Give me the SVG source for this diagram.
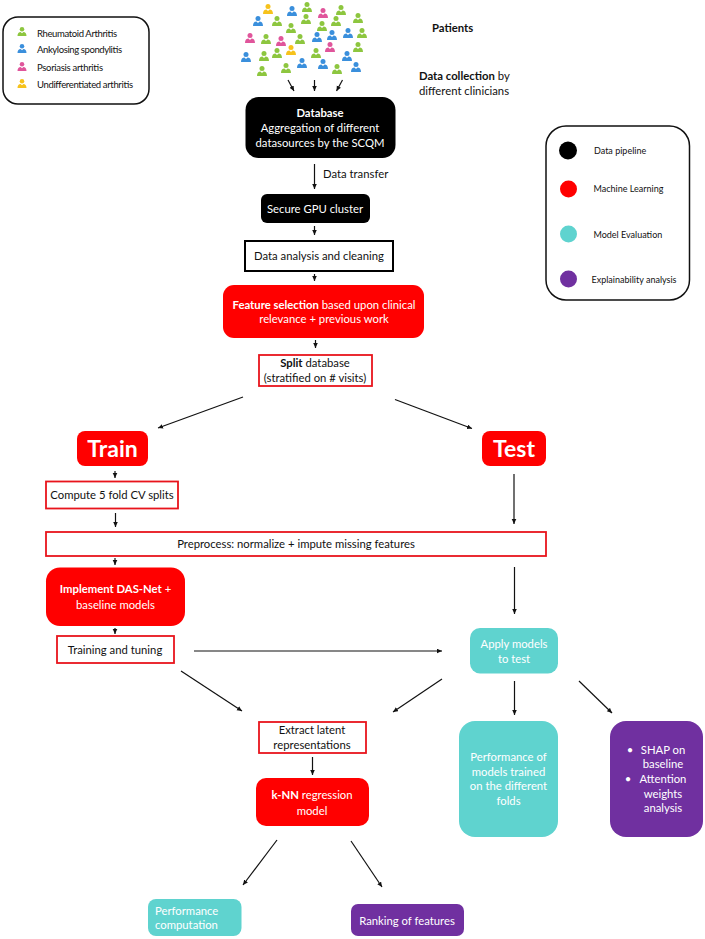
<svg xmlns="http://www.w3.org/2000/svg" width="705" height="939" viewBox="0 0 705 939">
<style>
text{font-family:"Lato","Carlito","Open Sans",sans-serif;font-size:11.3px;fill:#111;text-anchor:middle}
.w{fill:#fff}.b{font-weight:700}.l{text-anchor:start}.s{font-size:9px}
.big{font-size:23px;font-weight:700;fill:#fff}
.leg{font-size:9.5px;text-anchor:start}
.frame{fill:#fff;stroke:#111;stroke-width:1.5}
.blk{fill:#000}.red{fill:#f00}.teal{fill:#5fd3cf}.pur{fill:#7030a0}
.ro{fill:#fff;stroke:#e8141c;stroke-width:1.8}.bo{fill:#fff;stroke:#000;stroke-width:2}
.g{fill:#8dc63f}.u{fill:#3a8fdc}.p{fill:#e0559b}.y{fill:#f6c21c}
#connectors line{stroke:#111;stroke-width:1.2;marker-end:url(#ah)}
</style>
<defs>
<marker id="ah" markerUnits="userSpaceOnUse" markerWidth="6" markerHeight="6" refX="5" refY="2.5" orient="auto"><path d="M0,0.2L5,2.5L0,4.8Z" fill="#111"/></marker>
<symbol id="pp" viewBox="0 0 10 10" overflow="visible"><circle cx="5" cy="2.6" r="2.5"/><path d="M0,10C0,7 1.5,5.6 3.4,5.6L5,7L6.6,5.6C8.5,5.6 10,7 10,10Z"/></symbol>
</defs>

<g id="legend-disease">
<rect class="frame" x="3" y="17" width="146" height="87" rx="15"/>
<use href="#pp" class="g" x="17" y="27" width="10" height="9"/>
<use href="#pp" class="u" x="17" y="44" width="10" height="9"/>
<use href="#pp" class="p" x="17" y="62" width="10" height="9"/>
<use href="#pp" class="y" x="17" y="79" width="10" height="9"/>
<text class="leg" x="37" y="37" textLength="80">Rheumatoid Arthritis</text>
<text class="leg" x="37" y="53" textLength="85">Ankylosing spondylitis</text>
<text class="leg" x="37" y="71" textLength="66">Psoriasis arthritis</text>
<text class="leg" x="37" y="88" textLength="96">Undifferentiated arthritis</text>
</g>

<g id="patients-crowd">
<use href="#pp" class="y" x="263" y="4" width="10" height="10"/>
<use href="#pp" class="u" x="287" y="6" width="10" height="10"/>
<use href="#pp" class="g" x="302" y="2" width="10" height="10"/>
<use href="#pp" class="p" x="318" y="8" width="10" height="10"/>
<use href="#pp" class="g" x="336" y="5" width="10" height="10"/>
<use href="#pp" class="u" x="253" y="16" width="10" height="10"/>
<use href="#pp" class="g" x="272" y="16" width="10" height="10"/>
<use href="#pp" class="g" x="301" y="14" width="10" height="10"/>
<use href="#pp" class="g" x="331" y="16" width="10" height="10"/>
<use href="#pp" class="g" x="353" y="13" width="10" height="10"/>
<use href="#pp" class="g" x="286" y="23" width="10" height="10"/>
<use href="#pp" class="g" x="317" y="21" width="10" height="10"/>
<use href="#pp" class="u" x="327" y="30" width="10" height="10"/>
<use href="#pp" class="u" x="343" y="28" width="10" height="10"/>
<use href="#pp" class="g" x="357" y="28" width="10" height="10"/>
<use href="#pp" class="p" x="245" y="33" width="10" height="10"/>
<use href="#pp" class="g" x="261" y="34" width="10" height="10"/>
<use href="#pp" class="p" x="276" y="36" width="10" height="10"/>
<use href="#pp" class="g" x="295" y="34" width="10" height="10"/>
<use href="#pp" class="u" x="312" y="32" width="10" height="10"/>
<use href="#pp" class="y" x="286" y="45" width="10" height="10"/>
<use href="#pp" class="p" x="325" y="42" width="10" height="10"/>
<use href="#pp" class="g" x="353" y="42" width="10" height="10"/>
<use href="#pp" class="g" x="272" y="48" width="10" height="10"/>
<use href="#pp" class="g" x="311" y="48" width="10" height="10"/>
<use href="#pp" class="u" x="241" y="52" width="10" height="10"/>
<use href="#pp" class="g" x="259" y="51" width="10" height="10"/>
<use href="#pp" class="u" x="342" y="51" width="10" height="10"/>
<use href="#pp" class="u" x="297" y="58" width="10" height="10"/>
<use href="#pp" class="u" x="318" y="59" width="10" height="10"/>
<use href="#pp" class="g" x="332" y="64" width="10" height="10"/>
<use href="#pp" class="u" x="351" y="62" width="10" height="10"/>
<use href="#pp" class="g" x="281" y="63" width="10" height="10"/>
<use href="#pp" class="g" x="257" y="66" width="10" height="10"/>
</g>

<g id="connectors">
<line x1="288" y1="80" x2="294" y2="91"/>
<line x1="314.500" y1="80" x2="314.500" y2="91"/>
<line x1="342.500" y1="80" x2="336.500" y2="91"/>
<line x1="314.500" y1="164" x2="314.500" y2="189"/>
<line x1="314.500" y1="226" x2="314.500" y2="235"/>
<line x1="314.500" y1="274" x2="314.500" y2="281"/>
<line x1="315.500" y1="340" x2="315.500" y2="348"/>
<line x1="243" y1="397" x2="158" y2="428"/>
<line x1="395" y1="399.500" x2="472" y2="428.500"/>
<line x1="115" y1="471" x2="115" y2="478"/>
<line x1="115.500" y1="513" x2="115.500" y2="527"/>
<line x1="115" y1="558" x2="115" y2="565"/>
<line x1="115" y1="628" x2="115" y2="634"/>
<line x1="194" y1="651" x2="442" y2="651"/>
<line x1="181" y1="671" x2="242" y2="711"/>
<line x1="442" y1="679" x2="393" y2="712"/>
<line x1="514" y1="474" x2="514" y2="524"/>
<line x1="514.500" y1="567" x2="514.500" y2="614"/>
<line x1="514.500" y1="681" x2="514.500" y2="715"/>
<line x1="579" y1="681" x2="612" y2="713"/>
<line x1="312.500" y1="757" x2="312.500" y2="775"/>
<line x1="277" y1="840" x2="243" y2="885"/>
<line x1="351" y1="841" x2="382" y2="887"/>
</g>

<g id="patients-label"><text class="b l" x="432" y="32">Patients</text></g>
<g id="collection-label"><text class="l" x="419" y="80"><tspan class="b">Data collection</tspan> by</text><text class="l" x="419" y="95">different clinicians</text></g>
<g id="transfer-label"><text class="l" x="323" y="178">Data transfer</text></g>

<g id="database"><rect class="blk" x="245.500" y="97" width="150" height="61" rx="13"/>
<text class="w b" x="320" y="117">Database</text><text class="w" x="320" y="132">Aggregation of different</text><text class="w" x="320" y="147">datasources by the SCQM</text></g>
<g id="gpu"><rect class="blk" x="261" y="194" width="109" height="29" rx="6"/><text class="w" x="315" y="213">Secure GPU cluster</text></g>
<g id="cleaning"><rect class="bo" x="245" y="241" width="148" height="30"/><text x="319" y="260">Data analysis and cleaning</text></g>
<g id="feature"><rect class="red" x="223" y="285" width="201" height="53" rx="11"/>
<text class="w" x="324" y="309"><tspan class="b">Feature selection</tspan> based upon clinical</text><text class="w" x="324" y="323">relevance + previous work</text></g>
<g id="split"><rect class="ro" x="259" y="355" width="113" height="31"/><text x="315" y="367"><tspan class="b">Split</tspan> database</text><text x="315" y="382">(stratified on # visits)</text></g>
<g id="train"><rect class="red" x="77" y="431" width="71" height="35" rx="8"/><text class="big" x="112.500" y="457">Train</text></g>
<g id="test"><rect class="red" x="482" y="431" width="64" height="35" rx="8"/><text class="big" x="514" y="457">Test</text></g>
<g id="cv"><rect class="ro" x="46" y="481.500" width="132" height="27"/><text x="112" y="499">Compute 5 fold CV splits</text></g>
<g id="preprocess"><rect class="ro" x="46" y="532" width="500" height="24"/><text x="296" y="548">Preprocess: normalize + impute missing features</text></g>
<g id="dasnet"><rect class="red" x="46" y="567.500" width="139" height="58.500" rx="14"/>
<text class="w" x="115.500" y="593"><tspan class="b">Implement DAS-Net</tspan> +</text><text class="w" x="115.500" y="609">baseline models</text></g>
<g id="tuning"><rect class="ro" x="57" y="636" width="117" height="27"/><text x="115" y="654">Training and tuning</text></g>
<g id="apply"><rect class="teal" x="470" y="628" width="88" height="45.500" rx="10"/><text class="w" x="514" y="648">Apply models</text><text class="w" x="514" y="663">to test</text></g>
<g id="latent"><rect class="ro" x="259" y="722" width="107" height="31"/><text x="312" y="734">Extract latent</text><text x="312" y="749">representations</text></g>
<g id="knn"><rect class="red" x="256" y="778" width="113" height="48" rx="10"/><text class="w" x="312" y="799"><tspan class="b">k-NN</tspan> regression</text><text class="w" x="312" y="815">model</text></g>
<g id="perf-folds"><rect class="teal" x="459" y="721" width="99" height="116" rx="16"/>
<text class="w" x="508.500" y="761">Performance of</text><text class="w" x="508.500" y="776">models trained</text><text class="w" x="508.500" y="790">on the different</text><text class="w" x="508.500" y="805">folds</text></g>
<g id="shap"><rect class="pur" x="610" y="721" width="93" height="116" rx="16"/>
<text class="w" x="630" y="754">•</text><text class="w" x="663" y="754">SHAP on</text><text class="w" x="663" y="768">baseline</text>
<text class="w" x="628" y="783">•</text><text class="w" x="663" y="783">Attention</text><text class="w" x="663" y="798">weights</text><text class="w" x="663" y="812">analysis</text></g>
<g id="perf-comp"><rect class="teal" x="148" y="899" width="93.500" height="37" rx="8"/><text class="w l" x="155" y="915">Performance</text><text class="w l" x="155" y="929">computation</text></g>
<g id="ranking"><rect class="pur" x="351" y="904" width="113" height="32" rx="7"/><text class="w" x="407" y="925">Ranking of features</text></g>

<g id="legend-colors">
<rect class="frame" x="546" y="126" width="143.500" height="174" rx="20"/>
<circle class="blk" cx="568" cy="150.500" r="9"/><circle class="red" cx="568.500" cy="189" r="8.500"/><circle class="teal" cx="568.500" cy="234" r="8.500"/><circle class="pur" cx="568.500" cy="279" r="8.500"/>
<text class="s l" x="594" y="154">Data pipeline</text><text class="s l" x="593.500" y="192">Machine Learning</text><text class="s l" x="593.500" y="238">Model Evaluation</text><text class="s l" x="591.500" y="283">Explainability analysis</text>
</g>
</svg>
